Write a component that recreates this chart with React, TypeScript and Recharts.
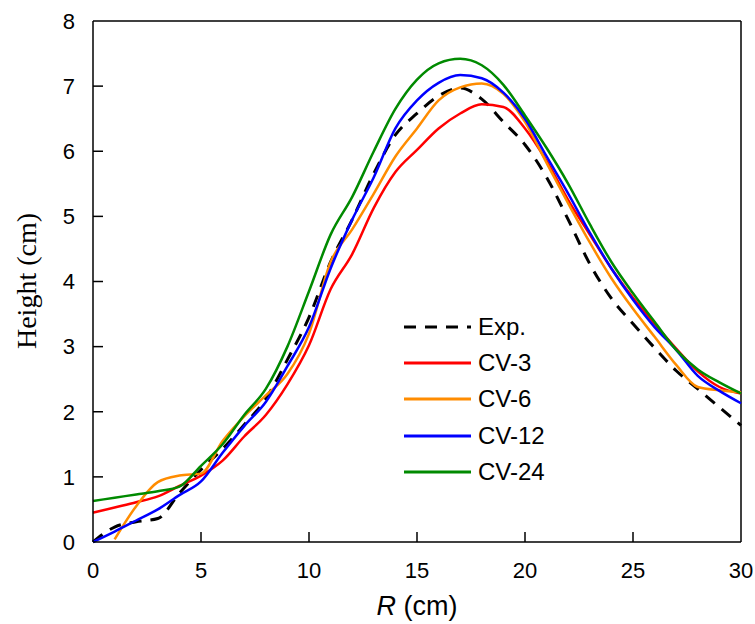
import { LineChart, Line, XAxis, YAxis, ReferenceLine } from "recharts"

const radius = [0, 1, 2, 3, 4, 5, 6, 7, 8, 9, 10, 11, 12, 13, 14, 15, 16, 17, 18, 19, 20, 21, 22, 23, 24, 25, 26, 27, 28, 29, 30]

const exp = [0, 0.23, 0.31, 0.36, 0.75, 1.11, 1.43, 1.8, 2.2, 2.8, 3.45, 4.3, 4.95, 5.66, 6.25, 6.58, 6.85, 6.97, 6.8, 6.45, 6.1, 5.6, 4.95, 4.27, 3.74, 3.35, 2.98, 2.63, 2.35, 2.07, 1.79]
const cv3 = [0.45, 0.53, 0.61, 0.7, 0.86, 1.02, 1.25, 1.62, 1.95, 2.42, 3.02, 3.88, 4.42, 5.13, 5.68, 6.02, 6.35, 6.58, 6.72, 6.68, 6.35, 5.85, 5.25, 4.72, 4.2, 3.75, 3.35, 2.97, 2.62, 2.38, 2.28]
const cv6 = [null, 0.04, 0.55, 0.92, 1.02, 1.05, 1.55, 1.93, 2.25, 2.58, 3.2, 4.3, 4.8, 5.35, 5.92, 6.35, 6.78, 6.98, 7.04, 6.88, 6.45, 5.82, 5.2, 4.6, 4.05, 3.58, 3.15, 2.72, 2.38, 2.33, 2.3]
const cv12 = [0, 0.16, 0.33, 0.5, 0.72, 0.93, 1.37, 1.78, 2.15, 2.7, 3.3, 4.2, 4.95, 5.6, 6.35, 6.78, 7.05, 7.17, 7.12, 6.9, 6.5, 5.92, 5.35, 4.75, 4.2, 3.72, 3.3, 2.95, 2.55, 2.32, 2.13]
const cv24 = [0.63, 0.68, 0.73, 0.78, 0.85, 1.17, 1.5, 1.95, 2.35, 3.0, 3.85, 4.72, 5.3, 6.0, 6.65, 7.1, 7.35, 7.42, 7.32, 7.02, 6.55, 6.05, 5.5, 4.88, 4.3, 3.82, 3.38, 2.95, 2.65, 2.45, 2.28]

const xTicks = [0, 5, 10, 15, 20, 25, 30]
const yTicks = [0, 1, 2, 3, 4, 5, 6, 7, 8]

const series = [
  { key: "exp", name: "Exp.", color: "#000000", dash: "12 9" },
  { key: "cv3", name: "CV-3", color: "#ff0000", dash: undefined },
  { key: "cv6", name: "CV-6", color: "#ff8c00", dash: undefined },
  { key: "cv12", name: "CV-12", color: "#0000ff", dash: undefined },
  { key: "cv24", name: "CV-24", color: "#008a00", dash: undefined },
]

const data = radius.map((r, i) => ({
  r,
  exp: exp[i],
  cv3: cv3[i],
  cv6: cv6[i],
  cv12: cv12[i],
  cv24: cv24[i],
}))

const font = "'Liberation Sans', Arial, sans-serif"
// inward tick length, in axis units (10px on each axis)
const xTickLen = 10 / 21.6
const yTickLen = 10 / 65.2

export default function App() {
  return (
    <div style={{ position: "absolute", left: 0, top: 0, width: 755, height: 624, background: "#fff" }}>
      <LineChart width={755} height={624} data={data} margin={{ top: 21, right: 14, bottom: 0, left: 0 }}>
        <XAxis
          dataKey="r"
          type="number"
          domain={[0, 30]}
          ticks={xTicks}
          height={82}
          stroke="#000"
          strokeWidth={1.5}
          tickLine={false}
          tickMargin={14}
          tick={{ fill: "#000", fontSize: 22, fontFamily: font }}
        />
        <YAxis
          type="number"
          domain={[0, 8]}
          ticks={yTicks}
          width={93}
          stroke="#000"
          strokeWidth={1.5}
          tickLine={false}
          tickMargin={12}
          tick={{ fill: "#000", fontSize: 22, fontFamily: font }}
        />
        <ReferenceLine y={8} stroke="#000" strokeWidth={1.5} />
        <ReferenceLine x={30} stroke="#000" strokeWidth={1.5} />
        {xTicks.slice(1, -1).map((t) => (
          <ReferenceLine key={"xt" + t} segment={[{ x: t, y: 0 }, { x: t, y: yTickLen }]} stroke="#000" strokeWidth={1.5} />
        ))}
        {yTicks.slice(1, -1).map((t) => (
          <ReferenceLine key={"yt" + t} segment={[{ x: 0, y: t }, { x: xTickLen, y: t }]} stroke="#000" strokeWidth={1.5} />
        ))}
        {series.map((s) => (
          <Line
            key={s.key}
            dataKey={s.key}
            name={s.name}
            type="monotone"
            stroke={s.color}
            strokeWidth={s.dash ? 3 : 2.5}
            strokeDasharray={s.dash}
            dot={false}
            activeDot={false}
            connectNulls
            isAnimationActive={false}
          />
        ))}
      </LineChart>

      <div style={{ position: "absolute", left: 0, top: 281, width: 0, height: 0 }}>
        <div
          style={{
            position: "absolute",
            left: 27,
            top: 0,
            transform: "translate(-50%, -50%) rotate(-90deg)",
            whiteSpace: "nowrap",
            fontFamily: "'Liberation Serif', 'Times New Roman', serif",
            fontSize: 28,
          }}
        >
          Height (cm)
        </div>
      </div>

      <div
        style={{
          position: "absolute",
          left: 417,
          top: 606,
          transform: "translate(-50%, -50%)",
          whiteSpace: "nowrap",
          fontFamily: font,
          fontSize: 27,
        }}
      >
        <i>R</i> (cm)
      </div>

      <div style={{ position: "absolute", left: 400, top: 309, fontFamily: font, fontSize: 24, color: "#000" }}>
        {series.map((s) => (
          <div key={s.key} style={{ display: "flex", alignItems: "center", height: 36.2 }}>
            <svg width={78} height={10}>
              <line x1={4} y1={5} x2={71} y2={5} stroke={s.color} strokeWidth={3} strokeDasharray={s.dash} />
            </svg>
            <span>{s.name}</span>
          </div>
        ))}
      </div>
    </div>
  )
}
